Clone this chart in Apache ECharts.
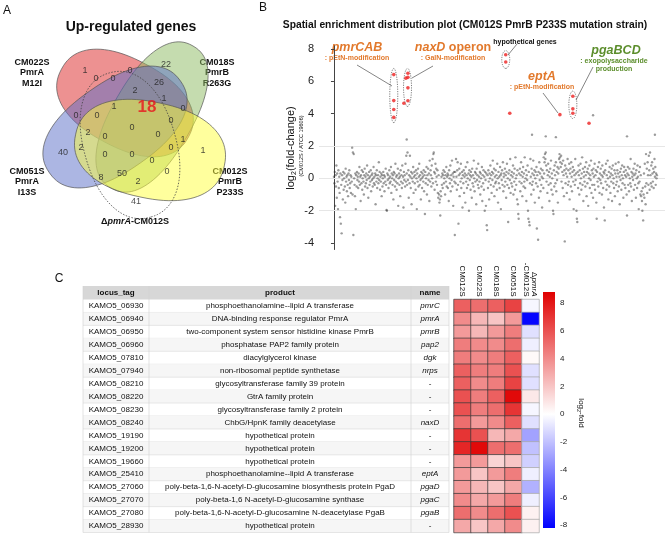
<!DOCTYPE html>
<html><head><meta charset="utf-8">
<script src="https://cdn.jsdelivr.net/npm/echarts@6/dist/echarts.min.js"></script>
<style>html,body{margin:0;padding:0;background:#fff}#c{width:671px;height:535px}</style>
</head><body><div id="c"></div>
<script>
// ================= DATA =================
// Panel A: Venn counts (up-regulated genes)
const vennSetNames = ['CM022S\nPmrA\nM12I', 'CM018S\nPmrB\nR263G', 'CM051S\nPmrA\nI13S', 'CM012S\nPmrB\nP233S'];
const vennCounts = [1,0,22,0,0,2,26,1,18,0,1,0,0,0,0,2,0,0,1,0,2,40,1,0,0,0,0,8,50,2,41];

// Panel B: log2 fold change, genes in genomic order (background genes)
const geneLog2FC = [
0.1,-0.3,0.4,-1.7,0.2,-0.5,0.8,-1.2,0.3,-0.2,-1.9,0.5,-0.6,0.1,-0.9,-2.4,0.3,-2.8,-0.4,-3.4,
0.2,-0.1,-1.3,0.4,-0.7,0.0,0.3,-0.5,-1.5,0.6,-0.2,0.1,-0.8,0.2,-0.4,-1.1,0.3,-0.1,0.5,-0.6,
-0.3,0.2,-0.9,0.1,-0.2,1.9,-1.0,1.6,-3.5,1.5,0.0,-0.4,-1.1,0.3,-1.9,0.2,-0.5,0.4,-0.1,0.1,
-0.6,0.3,-0.2,0.7,-0.4,0.1,-1.4,0.2,-0.3,0.5,-0.7,0.0,0.4,-0.2,-1.0,0.2,0.6,-0.5,0.1,-0.3,
0.3,-0.1,0.8,-0.6,0.2,-1.2,0.0,0.4,-0.4,0.1,-0.2,0.5,-0.8,0.2,-0.1,0.3,-0.5,0.0,0.7,-0.3,
0.1,-0.4,0.3,-1.6,0.2,-0.2,0.5,-0.6,0.0,0.2,-0.3,1.0,-0.1,0.4,-0.7,0.1,-0.2,0.3,-1.1,0.2,
-0.5,0.0,0.4,-0.3,0.2,-0.8,0.1,-0.2,0.6,-0.4,-1.95,-2.0,0.3,-0.1,0.2,-0.6,0.0,0.5,-0.3,0.1,
-0.2,0.7,-0.9,0.3,0.0,-0.4,0.2,-1.3,0.4,-0.1,0.3,-0.5,0.9,-0.2,0.1,-0.7,0.2,-0.3,0.6,-1.7,
0.0,0.3,-0.4,0.1,-1.1,0.5,-0.2,0.2,-0.6,0.8,-0.3,0.1,-1.8,0.4,-0.1,0.2,-0.5,0.9,-0.2,1.4,
0.3,-0.4,1.6,-0.1,0.5,-1.2,0.2,-0.3,1.4,0.1,-0.6,0.4,-1.6,0.0,0.3,-0.2,0.7,-0.9,0.1,0.4,
-0.3,0.2,-0.7,0.5,0.0,-1.9,0.3,-0.2,0.6,-0.5,0.1,0.9,-0.4,0.2,-0.1,-1.3,0.4,0.0,-0.6,0.3,
0.1,-0.2,0.5,-0.8,0.2,-2.2,0.4,-0.3,0.0,0.7,-1.0,0.2,-0.4,0.6,-0.1,0.3,-1.4,1.1,-0.2,0.5,
0.2,-0.5,0.8,0.0,1.2,-0.3,1.5,1.6,0.4,-0.7,0.3,0.9,-0.2,0.6,0.1,-0.4,0.5,-0.9,-1.2,0.2,
-1.0,-1.5,-1.3,-2.3,-0.8,-1.1,0.1,-0.4,0.3,-0.6,0.2,0.5,-0.3,0.0,0.4,-1.0,0.2,-0.2,0.7,-0.5,
0.1,0.3,-0.6,0.2,-1.4,0.5,0.0,-0.3,0.8,-0.8,0.2,-0.1,1.1,-0.5,0.3,-1.7,0.1,0.4,-0.2,-3.5,
0.4,-0.3,1.2,0.1,-0.7,0.5,1.0,-0.4,-2.8,0.2,0.6,-1.1,0.3,-0.2,0.9,-0.6,0.0,0.4,-1.8,0.2,
-0.3,0.5,-0.9,0.1,0.3,-1.5,0.7,-0.2,0.2,-0.6,1.0,0.0,-0.4,0.3,-2.0,0.5,-0.1,0.2,-0.7,0.4,
0.1,-1.2,0.6,-0.3,0.2,-0.5,1.1,0.0,-0.8,0.4,-0.2,0.3,-1.6,0.6,-0.1,0.2,-0.4,0.9,-0.6,0.1,
-0.2,0.4,-1.0,0.3,0.0,-0.5,0.7,-1.4,0.2,-0.3,0.5,-0.7,0.1,-2.0,0.4,-0.1,-1.7,0.3,-2.9,-3.2,
0.2,-0.6,0.5,-0.2,-1.3,0.3,0.0,0.8,-0.4,0.2,-0.9,0.4,-0.1,1.1,0.3,-0.5,0.6,-1.1,0.1,-0.3,
0.5,-0.2,0.2,-0.7,0.9,0.0,-1.5,0.4,-0.3,0.1,-0.6,0.7,0.2,-1.9,0.3,-0.1,0.5,-0.4,1.0,-0.8,
0.1,0.3,-0.5,0.6,-0.2,0.2,-1.2,0.4,0.9,-0.4,0.0,-2.7,0.3,-0.6,0.5,-0.1,1.2,-0.9,0.2,-0.3,
0.4,-0.5,0.1,0.8,-1.0,0.3,-0.2,0.6,-0.7,1.3,0.0,-0.4,0.2,-1.3,0.5,-1.6,-2.2,-2.5,0.3,-0.2,
0.6,-0.8,0.2,1.0,-0.3,0.4,-1.1,0.1,0.7,-0.5,0.3,-0.2,1.3,-0.6,0.0,0.5,-1.4,0.2,-0.1,0.8,
-2.0,-2.5,0.4,-2.7,-2.9,-0.3,1.2,0.1,-1.0,0.6,-0.4,0.3,-0.2,1.1,-0.7,0.2,0.5,-1.5,0.0,0.4,
-0.3,0.7,-3.1,0.2,-0.5,-3.8,0.4,-1.2,1.0,-0.1,0.3,-0.8,0.6,-0.4,0.1,-1.8,0.5,0.0,-0.6,1.3,
0.3,1.0,1.5,1.2,1.6,0.8,-0.2,0.5,-0.9,0.2,0.9,-0.4,0.4,-1.4,0.1,0.6,-0.3,1.1,-0.7,0.3,
0.0,-1.0,-2.0,-2.2,0.5,-0.5,0.8,0.2,-0.3,1.0,-0.8,0.4,-0.1,0.7,-1.5,0.3,0.6,1.2,1.5,1.3,
1.0,0.7,1.4,-0.2,0.9,0.4,-0.6,1.1,0.2,-1.1,0.5,-3.9,0.8,-0.3,0.3,0.6,-0.9,0.1,1.2,-0.4,
0.5,-0.2,0.9,-1.3,0.3,0.6,-0.5,1.0,0.1,-0.8,0.4,0.7,-0.2,-1.9,0.5,0.2,-0.4,1.2,-0.1,0.3,
-2.0,-2.5,-2.7,0.4,-0.6,0.8,0.2,-1.0,0.5,-0.3,0.9,0.0,-0.7,0.3,1.3,-0.4,0.6,-1.4,0.1,0.4,
-0.2,0.7,-0.5,0.2,1.0,-1.1,0.4,-0.3,0.6,-1.7,0.3,0.0,0.8,-0.6,0.2,-0.1,1.1,-0.9,0.5,-0.4,
0.3,-1.2,0.6,0.1,-0.4,0.9,-0.7,0.2,0.5,-1.5,-2.5,0.4,-0.2,0.7,-0.5,0.0,1.0,-0.9,0.3,-0.1,
0.6,-0.3,0.2,-1.0,0.8,0.1,-0.6,0.4,-1.8,0.3,-2.6,0.5,-0.2,0.9,-0.7,0.2,-0.4,1.1,0.0,-1.3,
0.4,-0.5,0.7,0.1,-0.9,0.3,-0.2,0.6,-1.4,0.2,0.8,-0.3,0.0,-0.6,0.5,-1.1,0.3,0.9,-0.4,0.1,
-0.2,0.5,-0.8,0.3,1.0,-0.5,0.1,-1.6,0.4,-0.1,0.6,-0.7,0.2,0.8,-0.3,0.0,-1.2,0.4,0.7,-0.4,
0.2,-0.6,0.5,0.1,-1.0,-2.3,0.3,0.7,-0.4,0.2,-0.8,0.6,0.0,-0.3,1.2,-0.5,0.4,-1.4,0.1,0.3,
-0.1,0.6,-0.7,0.2,0.9,-0.4,0.3,-1.2,0.5,0.0,-0.6,0.8,0.1,-0.3,-1.9,0.4,-0.2,0.7,-1.0,0.2,
-1.1,-0.8,-1.4,-2.0,-0.6,-2.6,-1.0,0.3,-1.2,0.9,-0.5,-1.6,1.5,-0.3,0.6,-0.9,1.0,0.2,-0.4,1.4,
0.5,-0.7,1.6,0.2,-0.3,0.8,-0.5,1.0,0.3,-0.2,0.6,-0.6,0.4,1.2,0.1,0.7,-0.4,0.3,0.0,0.2
];
// extra background genes with higher values [gene index, log2FC]
const upperGrayGenes = [[180,2.4],[490,2.7],[524,2.6],[549,2.55],[641,3.9],[725,2.6],[794,2.7]];
// highlighted (red) genes [gene index, log2FC]
const highlightGenes = [
  [148,6.42],[148,4.81],[148,4.26],[148,3.77],
  [178,6.2],[183,6.5],[183,6.25],[183,5.6],[183,4.8],[173,4.65],
  [425,7.65],[425,7.2],[435,4.03],[559,3.94],
  [591,5.08],[591,4.3],[591,4.03],[631,3.41]
];
// annotation ellipses [gene index, low, high]
const clusterEllipses = [[148,3.45,6.8],[182,4.45,6.8],[425,6.8,7.9],[591,3.7,5.4]];
const yTicksB = [-4,-2,0,2,4,6,8];

// Panel C: table + heatmap
const heatCols = ['CM012S','CM022S','CM018S','CM051S','ΔpmrA-CM012S'];
const locusTags = ['KAMO5_06930','KAMO5_06940','KAMO5_06950','KAMO5_06960','KAMO5_07810','KAMO5_07940','KAMO5_08210','KAMO5_08220','KAMO5_08230','KAMO5_08240','KAMO5_19190','KAMO5_19200','KAMO5_19660','KAMO5_25410','KAMO5_27060','KAMO5_27070','KAMO5_27080','KAMO5_28930'];
const products = ['phosphoethanolamine--lipid A transferase','DNA-binding response regulator PmrA','two-component system sensor histidine kinase PmrB','phosphatase PAP2 family protein','diacylglycerol kinase','non-ribosomal peptide synthetase','glycosyltransferase family 39 protein','GtrA family protein','glycosyltransferase family 2 protein','ChbG/HpnK family deacetylase','hypothetical protein','hypothetical protein','hypothetical protein','phosphoethanolamine--lipid A transferase','poly-beta-1,6-N-acetyl-D-glucosamine biosynthesis protein PgaD','poly-beta-1,6 N-acetyl-D-glucosamine synthase','poly-beta-1,6-N-acetyl-D-glucosamine N-deacetylase PgaB','hypothetical protein'];
const geneNames = ['pmrC','pmrA','pmrB','pap2','dgk','nrps','-','-','-','naxD','-','-','-','eptA','pgaD','pgaC','pgaB','-'];
const foldCM012S = [5.5,4.0,3.5,4.5,4.5,5.5,5.5,6.0,6.0,5.0,7.0,7.5,3.5,3.5,3.5,4.0,5.0,3.0];
const foldCM022S = [5.0,2.5,2.5,4.0,4.0,4.5,4.0,4.5,4.5,3.5,6.0,8.5,3.5,2.0,2.5,3.0,4.0,2.0];
const foldCM018S = [5.5,2.0,3.5,4.0,4.5,4.5,4.5,5.5,5.0,4.0,2.5,5.0,1.5,3.5,2.0,3.5,5.0,3.0];
const foldCM051S = [6.5,3.5,4.5,5.0,5.5,6.0,6.5,8.5,7.0,5.5,3.0,5.0,2.0,4.5,3.0,4.5,6.0,4.0];
const foldDpmrA  = [-0.3,-8.0,-1.0,-0.5,0.2,-1.0,-1.0,0.8,-0.3,-1.0,-3.0,-2.0,-1.5,-0.5,-2.5,-0.5,0.5,0.5];
const colorbarTicks = [-8,-6,-4,-2,0,2,4,6,8];

// ================= LAYOUT / STYLE =================
const FONT = 'Liberation Sans, Arial, Helvetica, sans-serif';
const ORANGE = '#e2792c', GREEN = '#5c8e2c';
const CB_MIN = -8.2, CB_MAX = 8.8;
const vennCountPos = [[85,71],[130,71],[166,65],[96,79],[113,79],[135,91],[159,83],[164,99],[147,107],[183,109],[114,107],[76,116],[97,116],[171,121],[132,128],[88,133],[105,137],[158,135],[183,140],[171,148],[81,148],[63,153],[203,151],[105,155],[132,155],[152,161],[167,172],[101,178],[122,174],[138,182],[136,202]];
const vennShapes = [
  {c:[125,103], a:72, b:44, ang:28,  n:2.3, fill:'rgba(222,55,55,0.55)'},
  {c:[152,117], a:82, b:40, ang:-60, n:2.3, fill:'rgba(140,185,95,0.5)'},
  {c:[115,127], a:80, b:44, ang:-35, n:2.3, fill:'rgba(90,110,200,0.5)'},
  {c:[150,150], a:76, b:48, ang:12,  n:2.3, fill:'rgba(255,255,60,0.5)'},
  {c:[130,145], a:75, b:46, ang:74,  n:2.2, fill:null, dash:true}
];
const vennLabelPos = [[32,57],[217,57],[27,166],[230,166]];

function ellipsePts(s, coord){
  const r = s.ang*Math.PI/180, d=[Math.cos(r),Math.sin(r)], p=[-Math.sin(r),Math.cos(r)];
  const e = 2/(s.n||2);
  const pts=[];
  for(let k=0;k<96;k++){const t=k/96*2*Math.PI;
    const ct=Math.cos(t), st=Math.sin(t);
    const u=s.a*Math.sign(ct)*Math.pow(Math.abs(ct),e), v=s.b*Math.sign(st)*Math.pow(Math.abs(st),e);
    pts.push(coord([s.c[0]+u*d[0]+v*p[0], s.c[1]+u*d[1]+v*p[1]]));}
  return pts;
}
function heatColor(v){
  let r,g,b;
  if(v>=0){const t=Math.min(v/CB_MAX,1); r=255+(224-255)*t; g=255*(1-t); b=255*(1-t);}
  else {const t=Math.min(-v/(-CB_MIN),1); r=255*(1-t); g=255*(1-t); b=255;}
  return 'rgb('+Math.round(r)+','+Math.round(g)+','+Math.round(b)+')';
}

const heatSeriesData = [];
const heatArrays = [foldCM012S, foldCM022S, foldCM018S, foldCM051S, foldDpmrA];
heatArrays.forEach((arr,ci)=>arr.forEach((v,ri)=>{
  heatSeriesData.push({value:[ci,ri,v], itemStyle:{color:heatColor(v), borderColor: ci<4?'#3a3a3a':'#a8a8a8', borderWidth:0.7}});
}));

// ---- graphic (texts, table, leader lines) ----
const G = [];
function txt(x,y,text,style){G.push({type:'text', x:x, y:y, silent:true, style:Object.assign({text:text, fontFamily:FONT, fill:'#111', align:'center', verticalAlign:'middle'}, style||{})});}
txt(7,11,'A',{fontSize:12});
txt(263,8,'B',{fontSize:12});
txt(59,279,'C',{fontSize:12});
txt(131,27,'Up-regulated genes',{fontSize:14, fontWeight:'bold'});
vennSetNames.forEach((n,i)=>txt(vennLabelPos[i][0], vennLabelPos[i][1], n, {fontSize:9, fontWeight:'bold', verticalAlign:'top', lineHeight:10.5}));
G.push({type:'text', x:135, y:222, silent:true, style:{text:'Δ{i|pmrA}-CM012S', fontFamily:FONT, fontSize:9, fontWeight:'bold', fill:'#111', align:'center', verticalAlign:'middle', rich:{i:{fontStyle:'italic', fontWeight:'bold', fontSize:9, fontFamily:FONT}}}});
txt(465,25,'Spatial enrichment distribution plot (CM012S PmrB P233S mutation strain)',{fontSize:10.3, fontWeight:'bold'});
// y axis name panel B
G.push({type:'text', x:291, y:148, rotation:Math.PI/2, silent:true, style:{text:'log{s|2}(fold-change)', fontFamily:FONT, fontSize:11, fill:'#111', align:'center', verticalAlign:'middle', rich:{s:{fontSize:7, verticalAlign:'bottom', padding:[6,0,0,0], fontFamily:FONT}}}});
G.push({type:'text', x:301, y:146, rotation:Math.PI/2, silent:true, style:{text:'(CM012S / ATCC 19606)', fontFamily:FONT, fontSize:5.5, fill:'#111', align:'center', verticalAlign:'middle'}});
// annotations panel B
G.push({type:'text', x:357, y:48, silent:true, style:{text:'pmrCAB', fontFamily:FONT, fontSize:12.5, fontStyle:'italic', fontWeight:'bold', fill:ORANGE, align:'center', verticalAlign:'middle'}});
txt(357,58,': pEtN-modification',{fontSize:7, fontWeight:'bold', fill:ORANGE});
G.push({type:'text', x:453, y:48, silent:true, style:{text:'{i|naxD} operon', fontFamily:FONT, fontSize:12.5, fontWeight:'bold', fill:ORANGE, align:'center', verticalAlign:'middle', rich:{i:{fontStyle:'italic', fontWeight:'bold', fontSize:12.5, fill:ORANGE, fontFamily:FONT}}}});
txt(453,58,': GalN-modification',{fontSize:7, fontWeight:'bold', fill:ORANGE});
txt(525,42,'hypothetical genes',{fontSize:7, fontWeight:'bold'});
G.push({type:'text', x:542, y:77, silent:true, style:{text:'eptA', fontFamily:FONT, fontSize:12.5, fontStyle:'italic', fontWeight:'bold', fill:ORANGE, align:'center', verticalAlign:'middle'}});
txt(542,87,': pEtN-modification',{fontSize:7, fontWeight:'bold', fill:ORANGE});
G.push({type:'text', x:616, y:51, silent:true, style:{text:'pgaBCD', fontFamily:FONT, fontSize:12.5, fontStyle:'italic', fontWeight:'bold', fill:GREEN, align:'center', verticalAlign:'middle'}});
txt(614,61,': exopolysaccharide',{fontSize:7, fontWeight:'bold', fill:GREEN});
txt(614,69,'production',{fontSize:7, fontWeight:'bold', fill:GREEN});
const leaders = [[357,65,392,86],[433,66,412,78],[517,44,508,55],[543,93,558,113],[593,67,576,100]];
leaders.forEach(l=>G.push({type:'line', silent:true, shape:{x1:l[0],y1:l[1],x2:l[2],y2:l[3]}, style:{stroke:'#333', lineWidth:0.6}}));
// table
const T = {x0:83, x1:149, x2:411, x3:449, hTop:286, hH:13.5, rTop:299.5, rH:233/18};
G.push({type:'rect', silent:true, shape:{x:T.x0, y:T.hTop, width:T.x3-T.x0, height:T.hH}, style:{fill:'#d7d7d7'}});
txt((T.x0+T.x1)/2, T.hTop+T.hH/2, 'locus_tag', {fontSize:8, fontWeight:'bold'});
txt((T.x1+T.x2)/2, T.hTop+T.hH/2, 'product', {fontSize:8, fontWeight:'bold'});
txt((T.x2+T.x3)/2, T.hTop+T.hH/2, 'name', {fontSize:8, fontWeight:'bold'});
locusTags.forEach((tag,i)=>{
  const y = T.rTop + i*T.rH;
  if(i%2===1) G.push({type:'rect', silent:true, shape:{x:T.x0, y:y, width:T.x3-T.x0, height:T.rH}, style:{fill:'#f6f6f6'}});
  G.push({type:'line', silent:true, shape:{x1:T.x0,y1:y+T.rH,x2:T.x3,y2:y+T.rH}, style:{stroke:'#d9d9d9', lineWidth:0.6}});
  txt((T.x0+T.x1)/2, y+T.rH/2, tag, {fontSize:8});
  txt((T.x1+T.x2)/2, y+T.rH/2, products[i], {fontSize:8});
  txt((T.x2+T.x3)/2, y+T.rH/2, geneNames[i], {fontSize:8, fontStyle: geneNames[i]==='-'?'normal':'italic'});
});
[T.x0,T.x1,T.x2,T.x3].forEach(x=>G.push({type:'line', silent:true, shape:{x1:x,y1:T.hTop,x2:x,y2:T.rTop+18*T.rH}, style:{stroke:'#d0d0d0', lineWidth:0.6}}));
G.push({type:'text', x:581, y:413, rotation:-Math.PI/2, silent:true, style:{text:'log{s|2}-fold', fontFamily:FONT, fontSize:8, fill:'#111', align:'center', verticalAlign:'middle', rich:{s:{fontSize:5.5, fontFamily:FONT, padding:[4,0,0,0]}}}});

const option = {
  animation:false,
  textStyle:{fontFamily:FONT},
  grid:[
    {left:0, top:0, width:250, height:240},
    {left:319, top:45.8, width:346, height:203.7},
    {left:454, top:299.5, width:85, height:233},
    {left:543, top:292, width:12, height:236}
  ],
  xAxis:[
    {gridIndex:0, type:'value', min:0, max:250, show:false},
    {gridIndex:1, type:'value', min:-37, max:819, show:false},
    {gridIndex:2, type:'category', data:heatCols, position:'top', axisLine:{show:false}, axisTick:{show:false},
      axisLabel:{rotate:90, fontSize:8, margin:3, color:'#111', fontFamily:FONT,
        formatter:(v)=> v.indexOf('Δ')===0 ? 'Δ{i|pmrA}\n-CM012S' : v,
        rich:{i:{fontStyle:'italic', fontSize:8, fontFamily:FONT, color:'#111'}}}},
    {gridIndex:3, type:'value', min:0, max:1, show:false}
  ],
  yAxis:[
    {gridIndex:0, type:'value', min:0, max:240, inverse:true, show:false},
    {gridIndex:1, type:'value', min:-4.4, max:8.2, splitLine:{show:false},
      axisLine:{show:true, lineStyle:{color:'#444', width:1}},
      axisTick:{show:true, length:3, customValues:yTicksB, lineStyle:{color:'#444'}},
      axisLabel:{customValues:yTicksB, fontSize:11, color:'#222', margin:5}},
    {gridIndex:2, type:'category', data:locusTags, inverse:true, show:false},
    {gridIndex:3, type:'value', min:CB_MIN, max:CB_MAX, position:'right', splitLine:{show:false},
      axisLine:{show:false},
      axisTick:{show:true, length:3, customValues:colorbarTicks, lineStyle:{color:'#666'}},
      axisLabel:{customValues:colorbarTicks, fontSize:8, color:'#222', margin:5}}
  ],
  series:[
    {type:'custom', xAxisIndex:0, yAxisIndex:0, silent:true, z:1,
      data: vennShapes.map((s,i)=>[i,0]),
      renderItem:(params, api)=>{
        const s = vennShapes[api.value(0)];
        const pts = ellipsePts(s, api.coord);
        return {type:'polygon', shape:{points:pts}, style:{fill: s.fill || 'none', stroke: s.dash?'#444':'#555', lineWidth: s.dash?0.8:0.7, lineDash: s.dash?[1.5,1.5]:null}};
      }},
    {type:'scatter', xAxisIndex:0, yAxisIndex:0, silent:true, z:3, symbolSize:0,
      data: vennCounts.map((c,i)=>{
        const o = {value:[vennCountPos[i][0], vennCountPos[i][1], c]};
        if(c===18) o.label = {fontSize:17, fontWeight:'bold', color:'#e8141c'};
        return o;}),
      label:{show:true, position:'inside', formatter:(p)=>String(p.value[2]), fontSize:9, color:'#222', fontFamily:FONT}},
    {type:'scatter', xAxisIndex:1, yAxisIndex:1, silent:true, symbolSize:2.4, z:2,
      data: geneLog2FC.map((v,i)=>[i,v]).concat(upperGrayGenes),
      itemStyle:{color:'rgba(45,45,45,0.6)', borderWidth:0},
      markLine:{silent:true, symbol:'none', label:{show:false}, z:1,
        lineStyle:{color:'#e6e6e6', type:'solid', width:1},
        data:[{yAxis:2},{yAxis:0},{yAxis:-2}]}},
    {type:'custom', xAxisIndex:1, yAxisIndex:1, silent:true, z:4,
      data: clusterEllipses,
      renderItem:(params, api)=>{
        const top = api.coord([api.value(0), api.value(2)]);
        const bot = api.coord([api.value(0), api.value(1)]);
        const s = {c:[top[0], (top[1]+bot[1])/2], a:(bot[1]-top[1])/2, b:4, ang:90};
        return {type:'polygon', shape:{points:ellipsePts(s, p=>p)}, style:{fill:'none', stroke:'#444', lineWidth:0.7, lineDash:[1.2,1.2]}};
      }},
    {type:'scatter', xAxisIndex:1, yAxisIndex:1, silent:true, symbolSize:3.6, z:5,
      data: highlightGenes, itemStyle:{color:'#ec2020'}},
    {type:'heatmap', xAxisIndex:2, yAxisIndex:2, silent:true, data: heatSeriesData},
    {type:'custom', xAxisIndex:3, yAxisIndex:3, silent:true,
      data:[[0, CB_MIN, CB_MAX]],
      renderItem:(params, api)=>{
        const tl = api.coord([0, api.value(2)]);
        const br = api.coord([1, api.value(1)]);
        const z0 = CB_MAX/(CB_MAX-CB_MIN);
        return {type:'rect', shape:{x:tl[0], y:tl[1], width:br[0]-tl[0], height:br[1]-tl[1]},
          style:{fill:new echarts.graphic.LinearGradient(0,0,0,1,[{offset:0,color:'rgb(224,0,0)'},{offset:z0,color:'#ffffff'},{offset:1,color:'rgb(0,0,255)'}])}};
      }}
  ],
  graphic:{elements:G}
};
const chart = echarts.init(document.getElementById('c'), null, {renderer:'canvas', width:671, height:535});
chart.setOption(option);
</script></body></html>
